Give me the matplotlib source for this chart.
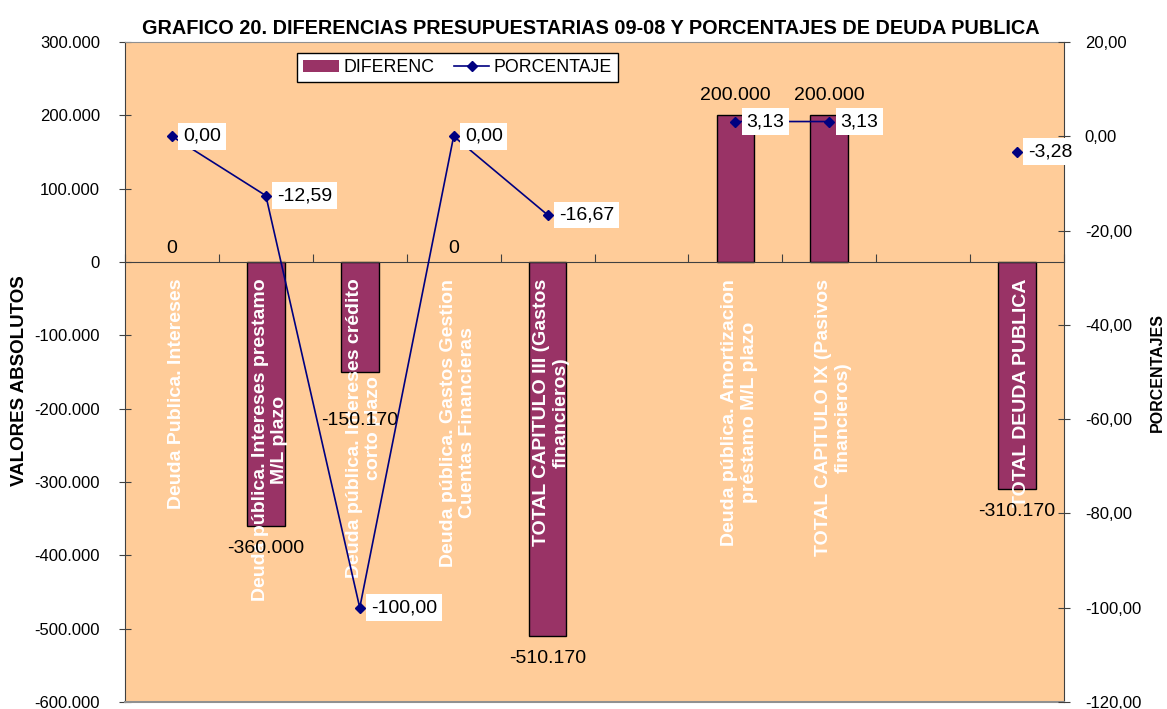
import matplotlib.pyplot as plt
import numpy as np
from matplotlib.ticker import FuncFormatter, FixedLocator

plt.rcParams['font.family'] = ['Liberation Sans', 'DejaVu Sans']

categorias = [
    'Deuda Publica. Intereses',
    'Deuda pública. Intereses prestamo\nM/L plazo',
    'Deuda pública. Intereses crédito\ncorto plazo',
    'Deuda pública. Gastos Gestion\nCuentas Financieras',
    'TOTAL CAPITULO III (Gastos\nfinancieros)',
    '',
    'Deuda pública. Amortizacion\npréstamo M/L plazo',
    'TOTAL CAPITULO IX (Pasivos\nfinancieros)',
    '',
    'TOTAL DEUDA PUBLICA',
]
diferencias = [0, -360000, -150170, 0, -510170, np.nan, 200000, 200000, np.nan, -310170]
porcentajes = [0.00, -12.59, -100.00, 0.00, -16.67, np.nan, 3.13, 3.13, np.nan, -3.28]

W, H = 1167, 709
fig = plt.figure(figsize=(W / 100, H / 100), dpi=100)
ax = fig.add_axes([125 / W, 7 / H, (1064 - 125) / W, (702 - 42) / H])
ax2 = ax.twinx()

fondo = '#FFCC99'
granate = '#993366'
azul = '#000080'

ax.set_facecolor(fondo)
x = np.arange(len(categorias))
barras = ax.bar(x, diferencias, width=0.4, color=granate, edgecolor='black', linewidth=1, zorder=2)
for b, v in zip(barras, diferencias):
    if v == 0:
        b.set_linewidth(0)

ax.set_xlim(-0.5, len(categorias) - 0.5)
ax.set_ylim(-600000, 300000)
ax.set_yticks(np.arange(-600000, 300001, 100000))


def miles(v, pos=None):
    v = int(round(v))
    if v == 0:
        return '0'
    s = f'{abs(v):,}'.replace(',', '.')
    return ('-' if v < 0 else '') + s


ax.yaxis.set_major_formatter(FuncFormatter(miles))
ax.tick_params(axis='y', labelsize=12, direction='inout', length=8, color='#404040', pad=14)

# eje de categorias en el cero
ax.spines['bottom'].set_position(('data', 0))
ax.spines['bottom'].set_color('#404040')
ax.spines['top'].set_color('#909090')
ax.spines['left'].set_color('#404040')
ax.spines['right'].set_color('#404040')
ax.xaxis.set_major_locator(FixedLocator(np.arange(-0.5, len(categorias), 1.0)))
ax.set_xticklabels([])
ax.tick_params(axis='x', direction='in', length=6, color='#404040')
ax.axhline(-600000, color='#909090', linewidth=1.5, clip_on=False, zorder=5)

# etiquetas de categoria en blanco, giradas
for i, cat in enumerate(categorias):
    if cat:
        ax.annotate(cat, (i, 0), xytext=(3, -12), textcoords='offset points',
                    rotation=90, ha='center', va='top', multialignment='center',
                    color='white', fontsize=14, fontweight='bold', zorder=3,
                    linespacing=1.2)

# etiquetas de las barras
for i, v in enumerate(diferencias):
    if np.isnan(v):
        continue
    if v > 0:
        off = 14
    elif v == 0:
        off = 10
    elif v == -150170:
        off = -35
    else:
        off = -16
    ax.annotate(miles(v), (i, v), xytext=(0, off), textcoords='offset points',
                ha='center', va='center', fontsize=14, zorder=4)

ax2.plot(x, porcentajes, color=azul, linewidth=1.2, marker='D', markersize=5.5, zorder=6)
ax2.set_ylim(-120, 20)
ax2.set_yticks(np.arange(-120, 21, 20))
ax2.yaxis.set_major_formatter(FuncFormatter(lambda v, p: f'{v:.2f}'.replace('.', ',')))
ax2.tick_params(axis='y', labelsize=12, direction='inout', length=8, color='#404040', pad=11)
for s in ax2.spines.values():
    s.set_visible(False)

for i, p in enumerate(porcentajes):
    if np.isnan(p):
        continue
    ax2.annotate(f'{p:.2f}'.replace('.', ','), (i, p), xytext=(8, 0), textcoords='offset points',
                 ha='left', va='center', fontsize=14, zorder=7,
                 bbox=dict(boxstyle='square,pad=0.25', facecolor='white', edgecolor='none'))

fig.text(591 / W, 1 - 28 / H, 'GRAFICO 20. DIFERENCIAS PRESUPUESTARIAS 09-08 Y PORCENTAJES DE DEUDA PUBLICA',
         ha='center', va='center', fontsize=14.3, fontweight='bold')
fig.text(20 / W, 1 - 381 / H, 'VALORES ABSOLUTOS', rotation=90, ha='center', va='center',
         fontsize=13.5, fontweight='bold')
fig.text(1157 / W, 1 - 372 / H, 'PORCENTAJES', rotation=90, ha='center', va='center',
         fontsize=11.5, fontweight='bold')

leg = fig.legend([barras, ax2.lines[0]], ['DIFERENC', 'PORCENTAJE'], ncol=2,
                 loc='upper left', bbox_to_anchor=(297 / W, 1 - 53 / H), fontsize=12.8,
                 frameon=True, fancybox=False, framealpha=1, edgecolor='black',
                 handlelength=2.0, handletextpad=0.25, columnspacing=1.1,
                 borderpad=0.35, borderaxespad=0)
leg.get_frame().set_linewidth(1)

fig.savefig('out.png', dpi=100)
